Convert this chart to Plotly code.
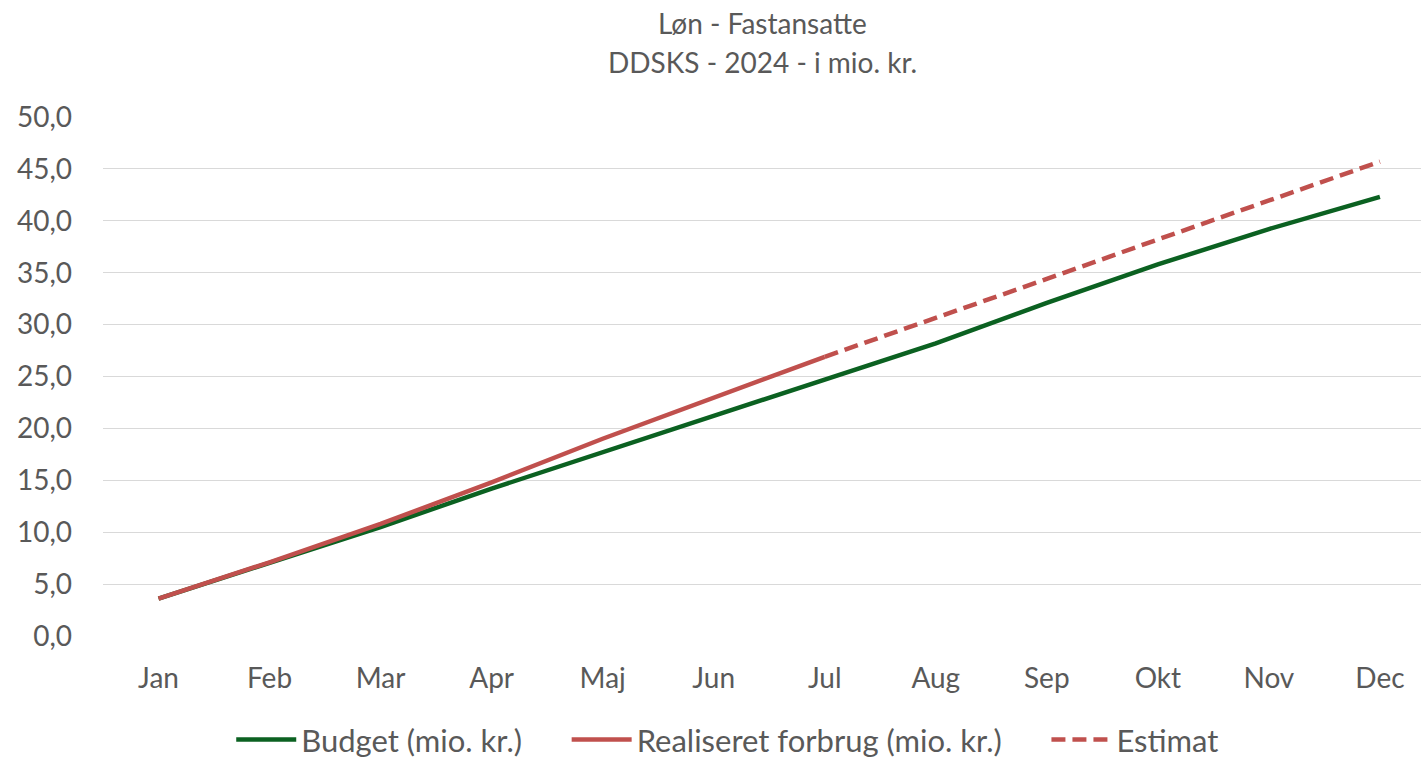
import plotly.graph_objects as go

months = ["Jan", "Feb", "Mar", "Apr", "Maj", "Jun", "Jul", "Aug", "Sep", "Okt", "Nov", "Dec"]
budget = [3.6, 7.0, 10.5, 14.2, 17.7, 21.2, 24.7, 28.2, 32.1, 35.8, 39.2, 42.3]
realiseret = [3.6, 7.1, 10.8, 14.8, 19.0, 22.9, 26.9, None, None, None, None, None]
estimat = [None, None, None, None, None, None, 26.9, 30.6, 34.4, 38.2, 42.0, 45.7]
title_lines = ["Løn - Fastansatte", "DDSKS - 2024 - i mio. kr."]

GREEN = "#0b6121"
RED = "#c0504d"
TXT = "#595959"
FONT = "Lato"
FS = 28
PAD = "&nbsp;" * 5

fig = go.Figure()
fig.add_trace(go.Scatter(x=months, y=budget, mode="lines", name="Budget (mio. kr.)" + PAD,
                         line=dict(color=GREEN, width=4.5)))
fig.add_trace(go.Scatter(x=months, y=realiseret, mode="lines", name="Realiseret forbrug (mio. kr.)" + PAD,
                         line=dict(color=RED, width=4.5)))
fig.add_trace(go.Scatter(x=months, y=estimat, mode="lines", name="Estimat",
                         line=dict(color=RED, width=4.5, dash="14px,7px")))

for txt, yy in zip(title_lines, [1.181, 1.106]):
    fig.add_annotation(text=txt, xref="paper", yref="paper", x=0.5, y=yy,
                       xanchor="center", yanchor="middle", showarrow=False,
                       font=dict(family=FONT, size=28, color=TXT))

fig.update_layout(
    width=1421, height=758,
    paper_bgcolor="white", plot_bgcolor="white",
    separators=",.",
    font=dict(family=FONT, color=TXT, size=FS),
    margin=dict(l=103, r=0, t=117, b=122, autoexpand=False),
    showlegend=True,
    legend=dict(orientation="h", x=0.474, xanchor="center", yref="container", y=0.024,
                yanchor="middle", font=dict(family=FONT, size=31, color=TXT), itemwidth=60,
                traceorder="normal"),
    xaxis=dict(type="category", range=[-0.5, 11.37], showgrid=False, showline=False,
               ticks="", ticklabelstandoff=23, tickfont=dict(size=FS, color=TXT)),
    yaxis=dict(range=[0, 50], dtick=5, tickformat=".1f", showgrid=True, gridcolor="#d9d9d9",
               gridwidth=1.3, zeroline=False, showline=False, ticks="", ticklabelstandoff=30,
               tickfont=dict(size=FS, color=TXT)),
)

fig.write_html("out.html", config={"displayModeBar": False},
               post_script="document.body.style.margin='0';document.body.style.overflow='hidden';")
